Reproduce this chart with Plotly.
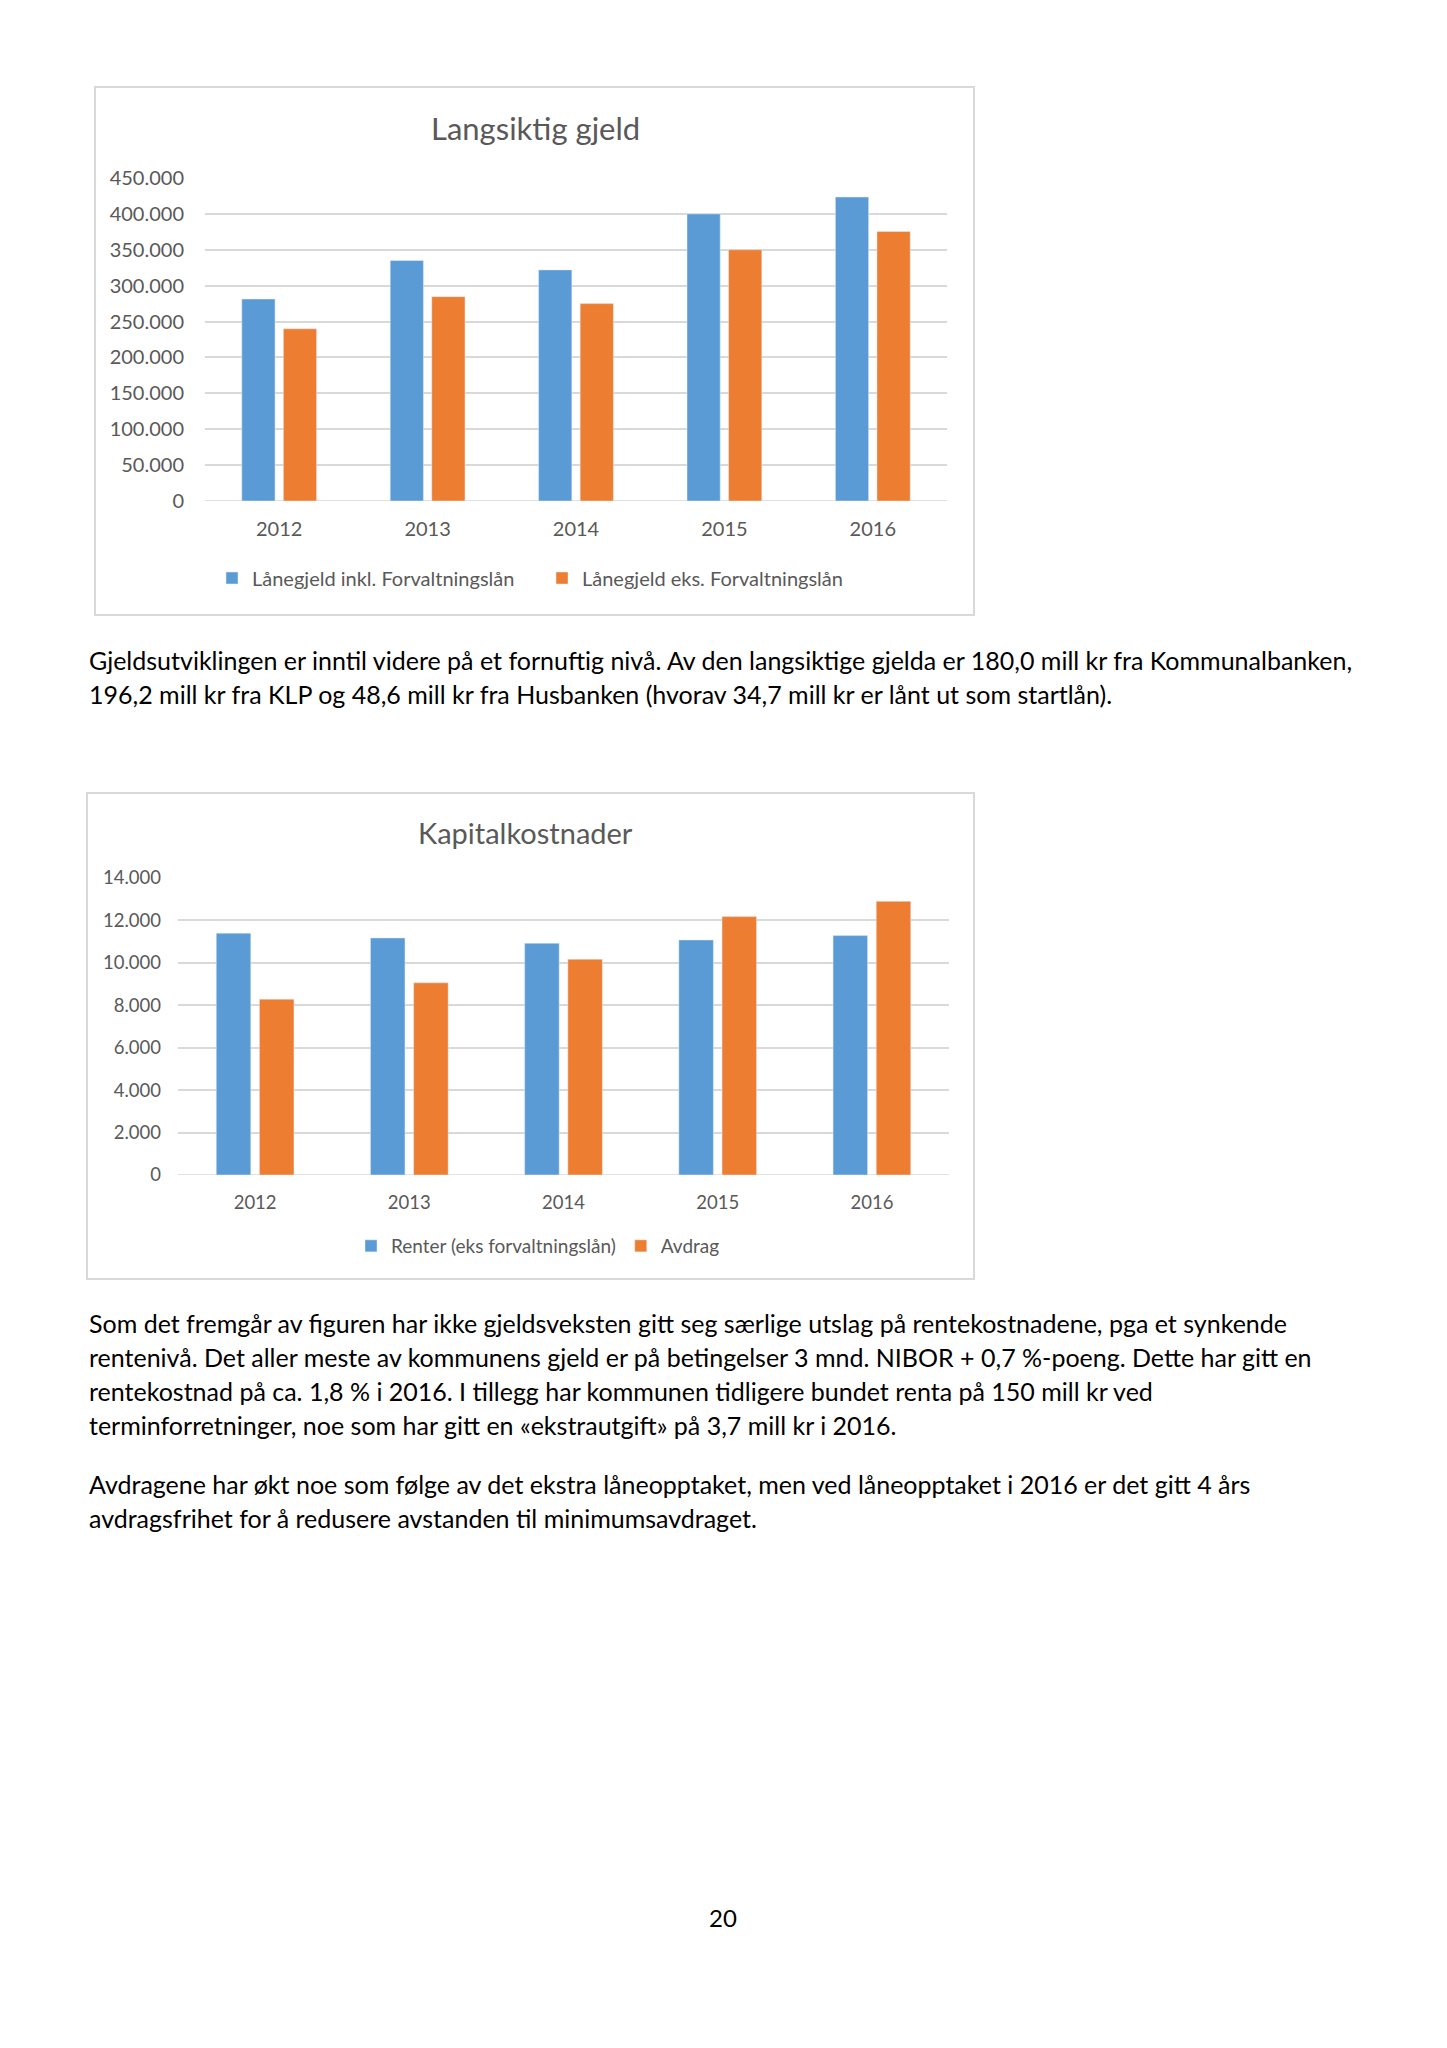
import plotly.graph_objects as go

W, H = 1447, 2048

years = ["2012", "2013", "2014", "2015", "2016"]
gjeld_inkl = [281400, 335000, 322000, 400000, 423500]
gjeld_eks = [239900, 284700, 275000, 350000, 375500]
y1_ticks = [0, 50000, 100000, 150000, 200000, 250000, 300000, 350000, 400000, 450000]
y1_labels = ["0", "50.000", "100.000", "150.000", "200.000", "250.000", "300.000", "350.000", "400.000", "450.000"]

renter = [11400, 11175, 10925, 11080, 11285]
avdrag = [8290, 9060, 10170, 12180, 12900]
y2_ticks = [0, 2000, 4000, 6000, 8000, 10000, 12000, 14000]
y2_labels = ["0", "2.000", "4.000", "6.000", "8.000", "10.000", "12.000", "14.000"]

para1 = [
    "Gjeldsutviklingen er inntil videre på et fornuftig nivå. Av den langsiktige gjelda er 180,0 mill kr fra Kommunalbanken,",
    "196,2 mill kr fra KLP og 48,6 mill kr fra Husbanken (hvorav 34,7 mill kr er lånt ut som startlån).",
]
para2 = [
    "Som det fremgår av figuren har ikke gjeldsveksten gitt seg særlige utslag på rentekostnadene, pga et synkende",
    "rentenivå. Det aller meste av kommunens gjeld er på betingelser 3 mnd. NIBOR + 0,7 %-poeng. Dette har gitt en",
    "rentekostnad på ca. 1,8 % i 2016. I tillegg har kommunen tidligere bundet renta på 150 mill kr ved",
    "terminforretninger, noe som har gitt en «ekstrautgift» på 3,7 mill kr i 2016.",
]
para3 = [
    "Avdragene har økt noe som følge av det ekstra låneopptaket, men ved låneopptaket i 2016 er det gitt 4 års",
    "avdragsfrihet for å redusere avstanden til minimumsavdraget.",
]
page_no = "20"

BLUE = "#5B9BD5"
ORANGE = "#ED7D31"
GREY = "#595959"
GRID = "#D9D9D9"
FONT = "Lato, 'Noto Sans', sans-serif"
OFF = 8  # page body margin


def px(x):
    return (x - OFF) / W


def py(y):
    return 1 - (y - OFF) / H


fig = go.Figure()
fig.add_trace(go.Bar(x=years, y=gjeld_inkl, name="Lånegjeld inkl. Forvaltningslån",
                     marker_color=BLUE, xaxis="x", yaxis="y", legend="legend"))
fig.add_trace(go.Bar(x=years, y=gjeld_eks, name="Lånegjeld eks. Forvaltningslån",
                     marker_color=ORANGE, xaxis="x", yaxis="y", legend="legend"))
fig.add_trace(go.Bar(x=years, y=renter, name="Renter (eks forvaltningslån)",
                     marker_color=BLUE, xaxis="x2", yaxis="y2", legend="legend2"))
fig.add_trace(go.Bar(x=years, y=avdrag, name="Avdrag",
                     marker_color=ORANGE, xaxis="x2", yaxis="y2", legend="legend2"))

ax1 = dict(showline=False, zeroline=False, automargin=False,
           tickfont=dict(family=FONT, size=20, color=GREY))
ax2 = dict(showline=False, zeroline=False, automargin=False,
           tickfont=dict(family=FONT, size=18.5, color=GREY))

fig.update_layout(
    width=W, height=H,
    margin=dict(l=0, r=0, t=0, b=0, autoexpand=False),
    paper_bgcolor="white", plot_bgcolor="white",
    font=dict(family=FONT, color=GREY),
    barmode="group", bargap=0.44, bargroupgap=0.2,
    showlegend=True,
    xaxis=dict(domain=[px(205), px(947)], anchor="y", showgrid=False,
               ticklabelstandoff=14, **ax1),
    yaxis=dict(domain=[py(501), py(178)], anchor="x", range=[0, 450000],
               tickvals=y1_ticks, ticktext=y1_labels, showgrid=True,
               gridcolor=GRID, gridwidth=1.5, ticklabelstandoff=20, **ax1),
    xaxis2=dict(domain=[px(178), px(949)], anchor="y2", showgrid=False,
                ticklabelstandoff=14, **ax2),
    yaxis2=dict(domain=[py(1175), py(878)], anchor="x2", range=[0, 14000],
                tickvals=y2_ticks, ticktext=y2_labels, showgrid=True,
                gridcolor=GRID, gridwidth=1.5, ticklabelstandoff=16, **ax2),
    legend=dict(orientation="h", x=px(542), y=py(578), xanchor="center", yanchor="middle",
                font=dict(family=FONT, size=20, color=GREY), bgcolor="rgba(0,0,0,0)",
                itemwidth=30, tracegroupgap=0, entrywidth=285),
    legend2=dict(orientation="h", x=px(538), y=py(1246), xanchor="center", yanchor="middle",
                 font=dict(family=FONT, size=19, color=GREY), bgcolor="rgba(0,0,0,0)",
                 itemwidth=30, tracegroupgap=0),
)

# chart frames
for (x0, y0, x1, y1) in [(95, 87, 974, 615), (87, 793, 974, 1279)]:
    fig.add_shape(type="rect", xref="paper", yref="paper",
                  x0=px(x0), x1=px(x1), y0=py(y1), y1=py(y0),
                  line=dict(color="#D9D9D9", width=2), fillcolor="rgba(0,0,0,0)", layer="below")
# zero baselines
for (xa, ya) in [("x", "y"), ("x2", "y2")]:
    fig.add_shape(type="line", xref=f"{xa} domain", yref=ya, x0=0, x1=1, y0=0, y1=0,
                  line=dict(color=GRID, width=1.5), layer="below")

annots = []
annots.append(dict(text="Langsiktig gjeld", x=px(535), y=py(128), xref="paper", yref="paper",
                   showarrow=False, xanchor="center", yanchor="middle",
                   font=dict(family=FONT, size=31, color=GREY)))
annots.append(dict(text="Kapitalkostnader", x=px(525), y=py(832), xref="paper", yref="paper",
                   showarrow=False, xanchor="center", yanchor="middle",
                   font=dict(family=FONT, size=29, color=GREY)))


def add_lines(lines, y_start, step=34):
    for i, t in enumerate(lines):
        annots.append(dict(text=t, x=px(87), y=py(y_start + i * step), xref="paper", yref="paper",
                           showarrow=False, xanchor="left", yanchor="middle",
                           font=dict(family=FONT, size=25, color="black")))


add_lines(para1, 659.5)
add_lines(para2, 1323)
add_lines(para3, 1484)
annots.append(dict(text=page_no, x=px(723), y=py(1917), xref="paper", yref="paper",
                   showarrow=False, xanchor="center", yanchor="middle",
                   font=dict(family=FONT, size=24, color="black")))
fig.update_layout(annotations=annots)

fig.write_html("out.html")
